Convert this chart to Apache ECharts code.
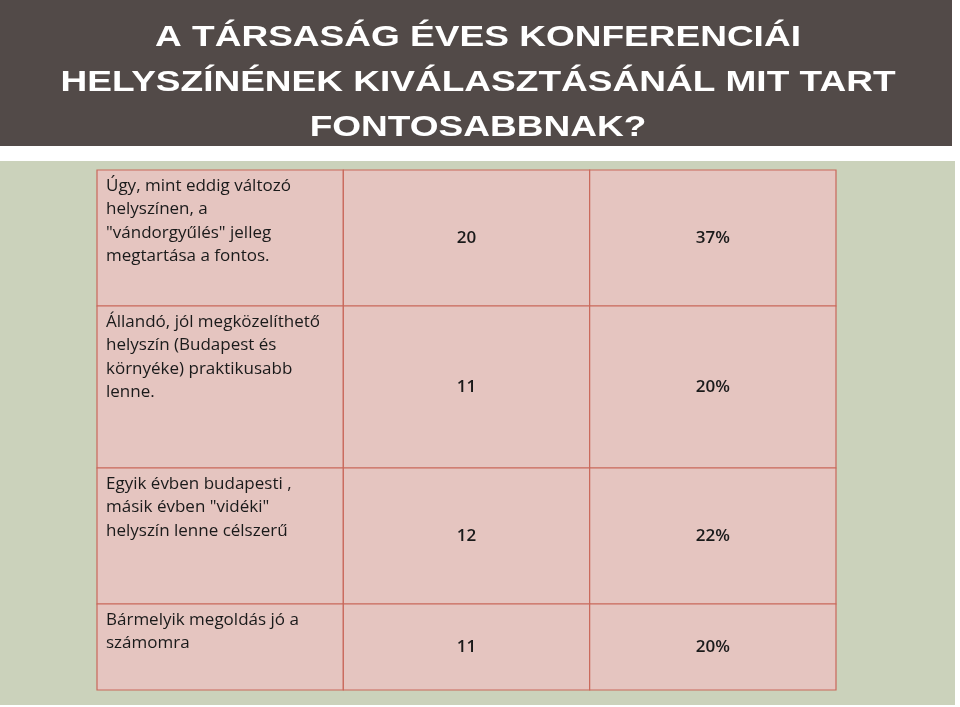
<!DOCTYPE html>
<html lang="hu">

<head>
	<meta charset="UTF-8">
	<script src="https://cdn.jsdelivr.net/npm/echarts@6/dist/echarts.min.js"></script>
	<title>konferencia helyszín</title>
	<style>
		html, body { margin: 0; padding: 0; background: #fff; }
		#chart { width: 960px; height: 707px; }
	</style>
</head>

<body>
	<div id="chart"></div>
	<script>
		// válaszok
		var categories = [
			'Úgy, mint eddig változó\nhelyszínen, a\n"vándorgyűlés" jelleg\nmegtartása a fontos.',
			'Állandó, jól megközelíthető\nhelyszín (Budapest és\nkörnyéke) praktikusabb\nlenne.',
			'Egyik évben budapesti ,\nmásik évben "vidéki"\nhelyszín lenne célszerű',
			'Bármelyik megoldás jó a\nszámomra'
		];
		var counts = [20, 11, 12, 11];
		var percents = ['37%', '20%', '22%', '20%'];

		// sor magasságok (layout)
		var rowHeights = [136, 162, 136, 86];

		var titleLines = [
			'A TÁRSASÁG ÉVES KONFERENCIÁI',
			'HELYSZÍNÉNEK KIVÁLASZTÁSÁNÁL MIT TART',
			'FONTOSABBNAK?'
		];

		// cellák: [oszlop, felső, alsó]
		var cells = [];
		var cellTexts = [];
		var acc = 0;
		for (var i = 0; i < categories.length; i++) {
			var rowTop = acc, rowBottom = acc + rowHeights[i];
			cells.push([0, rowTop, rowBottom]); cellTexts.push(categories[i]);
			cells.push([1, rowTop, rowBottom]); cellTexts.push(String(counts[i]));
			cells.push([2, rowTop, rowBottom]); cellTexts.push(percents[i]);
			acc = rowBottom;
		}

		// a cím széles, ritkított betűs -> vízszintes nyújtás a leghosszabb sor alapján
		var titleFont = 'bold 30px "Liberation Sans", sans-serif';
		var ctx = document.createElement('canvas').getContext('2d');
		ctx.font = titleFont;
		var titleScale = 835 / ctx.measureText(titleLines[1]).width;

		var titleGraphics = titleLines.map(function (line, k) {
			return {
				type: 'text',
				x: 478,
				y: 38 + k * 44.7,
				scaleX: titleScale,
				z: 10,
				style: {
					text: line,
					font: titleFont,
					fill: '#ffffff',
					align: 'center',
					verticalAlign: 'middle'
				}
			};
		});

		var chart = echarts.init(document.getElementById('chart'));

		var option = {
			animation: false,
			graphic: [
				{ type: 'rect', z: -10, shape: { x: 0, y: 0, width: 952, height: 146 }, style: { fill: '#524a48' } },
				{ type: 'rect', z: -10, shape: { x: 0, y: 161, width: 955, height: 544 }, style: { fill: '#cbd2bb' } }
			].concat(titleGraphics),
			grid: { left: 97, top: 170, width: 739, height: acc },
			xAxis: { type: 'value', min: 0, max: 3, show: false },
			yAxis: { type: 'value', min: 0, max: acc, inverse: true, show: false },
			series: [{
				type: 'custom',
				data: cells,
				renderItem: function (params, api) {
					var col = api.value(0);
					var p0 = api.coord([col, api.value(1)]);
					var p1 = api.coord([col + 1, api.value(2)]);
					var txt = cellTexts[params.dataIndex];
					var textEl;
					if (col === 0) {
						textEl = {
							type: 'text',
							style: {
								x: p0[0] + 9, y: p0[1] + 4,
								text: txt, align: 'left', verticalAlign: 'top',
								font: '17px "Open Sans", sans-serif', lineHeight: 23.5,
								fill: '#1a1a1a'
							}
						};
					} else {
						textEl = {
							type: 'text',
							style: {
								x: (p0[0] + p1[0]) / 2, y: (p0[1] + p1[1]) / 2,
								text: txt, align: 'center', verticalAlign: 'middle',
								font: '600 17px "Open Sans", sans-serif',
								fill: '#1a1a1a'
							}
						};
					}
					return {
						type: 'group',
						children: [
							{
								type: 'rect',
								shape: { x: p0[0], y: p0[1], width: p1[0] - p0[0], height: p1[1] - p0[1] },
								style: { fill: '#e5c5c0', stroke: '#c9685a', lineWidth: 1.2 }
							},
							textEl
						]
					};
				}
			}]
		};
		chart.setOption(option);
	</script>
</body>

</html>
